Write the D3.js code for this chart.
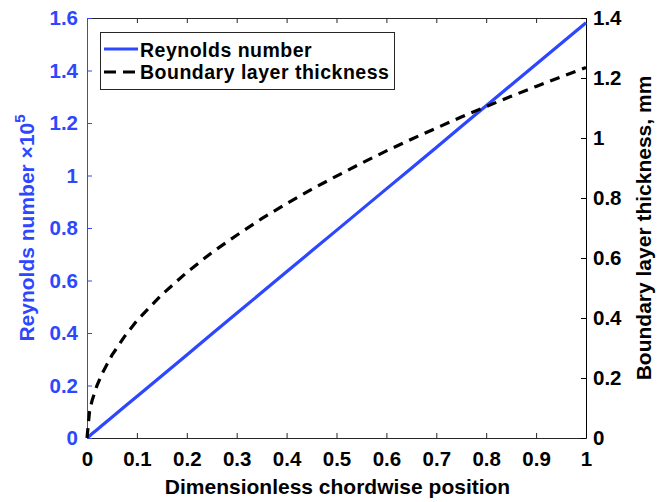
<!DOCTYPE html>
<html>
<head>
<meta charset="utf-8">
<script src="https://cdn.jsdelivr.net/npm/d3@7"></script>
<style>
  html, body { margin: 0; padding: 0; background: #fff; }
  svg { display: block; }
  text { font-family: "Liberation Sans", Arial, Helvetica, sans-serif; font-weight: bold; }
</style>
</head>
<body>
<svg id="chart" width="667" height="502"></svg>
<script>
// Chordwise position (dimensionless)
const xPos = [0, 0.005, 0.01, 0.02, 0.03, 0.05, 0.075, 0.1, 0.15, 0.2, 0.25, 0.3, 0.35, 0.4, 0.45, 0.5, 0.55, 0.6, 0.65, 0.7, 0.75, 0.8, 0.85, 0.9, 0.95, 1.0];
// Reynolds number (x 10^5), grows linearly with position
const reynolds = [0, 0.0079, 0.0158, 0.0316, 0.0475, 0.079, 0.1187, 0.158, 0.237, 0.316, 0.396, 0.475, 0.554, 0.633, 0.712, 0.791, 0.870, 0.949, 1.028, 1.107, 1.187, 1.266, 1.345, 1.424, 1.503, 1.582];
// Boundary layer thickness, mm
const thickness = [0, 0.087, 0.124, 0.175, 0.214, 0.276, 0.338, 0.391, 0.478, 0.552, 0.618, 0.676, 0.731, 0.781, 0.829, 0.873, 0.916, 0.957, 0.996, 1.033, 1.070, 1.105, 1.139, 1.172, 1.204, 1.235];

const xTicks = [0, 0.1, 0.2, 0.3, 0.4, 0.5, 0.6, 0.7, 0.8, 0.9, 1];
const leftTicks = [0, 0.2, 0.4, 0.6, 0.8, 1, 1.2, 1.4, 1.6];
const rightTicks = [0, 0.2, 0.4, 0.6, 0.8, 1, 1.2, 1.4];

const blue = "#2d47ff";
const dark = "#262626";
const box = { left: 87, right: 586, top: 18, bottom: 438 };

const svg = d3.select("#chart");
const x = d3.scaleLinear().domain([0, 1]).range([box.left, box.right]);
const yL = d3.scaleLinear().domain([0, 1.6]).range([box.bottom, box.top]);
const yR = d3.scaleLinear().domain([0, 1.4]).range([box.bottom, box.top]);

const fmt = d => d3.format("~g")(d);

// bottom axis (ticks inward)
const gx = svg.append("g").attr("transform", `translate(0,${box.bottom})`)
  .call(d3.axisBottom(x).tickValues(xTicks).tickFormat(fmt).tickSizeInner(-5).tickSizeOuter(0).tickPadding(13));
gx.select(".domain").attr("stroke", dark);
gx.selectAll(".tick line").attr("stroke", dark);
gx.selectAll("text").attr("fill", "#000").attr("font-size", 20.5);

// top border with mirrored ticks
const gt = svg.append("g").attr("transform", `translate(0,${box.top})`)
  .call(d3.axisTop(x).tickValues(xTicks).tickFormat("").tickSizeInner(-5).tickSizeOuter(0));
gt.select(".domain").attr("stroke", dark);
gt.selectAll(".tick line").attr("stroke", dark);

// left axis
const gl = svg.append("g").attr("transform", `translate(${box.left},0)`)
  .call(d3.axisLeft(yL).tickValues(leftTicks).tickFormat(fmt).tickSizeInner(-5).tickSizeOuter(0).tickPadding(9));
gl.select(".domain").attr("stroke", blue);
gl.selectAll(".tick line").attr("stroke", blue);
gl.selectAll("text").attr("fill", blue).attr("font-size", 20.5);

// right axis
const gr = svg.append("g").attr("transform", `translate(${box.right},0)`)
  .call(d3.axisRight(yR).tickValues(rightTicks).tickFormat(fmt).tickSizeInner(-5).tickSizeOuter(0).tickPadding(7));
gr.select(".domain").attr("stroke", "#000");
gr.selectAll(".tick line").attr("stroke", "#000");
gr.selectAll("text").attr("fill", "#000").attr("font-size", 20.5);

// series
const reLine = d3.line().x((d, i) => x(xPos[i])).y(d => yL(d));
const thLine = d3.line().x((d, i) => x(xPos[i])).y(d => yR(d));

svg.append("path").datum(reynolds)
  .attr("d", reLine).attr("fill", "none").attr("stroke", blue).attr("stroke-width", 3.2);
svg.append("path").datum(thickness)
  .attr("d", thLine).attr("fill", "none").attr("stroke", "#000").attr("stroke-width", 3.2)
  .attr("stroke-dasharray", "10,7");

// axis titles
svg.append("text").attr("x", (box.left + box.right) / 2 + 1).attr("y", 494)
  .attr("text-anchor", "middle").attr("font-size", 21).attr("fill", "#000")
  .text("Dimensionless chordwise position");

const lt = svg.append("text")
  .attr("transform", `translate(34,${(box.top + box.bottom) / 2}) rotate(-90)`)
  .attr("text-anchor", "middle").attr("font-size", 21).attr("fill", blue);
lt.append("tspan").text("Reynolds number \u00d710");
lt.append("tspan").attr("font-size", 15).attr("dy", -9).text("5");

svg.append("text")
  .attr("transform", `translate(651,${(box.top + box.bottom) / 2}) rotate(-90)`)
  .attr("text-anchor", "middle").attr("font-size", 21).attr("fill", "#000")
  .text("Boundary layer thickness, mm");

// legend
const lg = svg.append("g");
lg.append("rect").attr("x", 100.5).attr("y", 32.5).attr("width", 294).attr("height", 57)
  .attr("fill", "#fff").attr("stroke", dark).attr("stroke-width", 1);
const legendItems = [
  { label: "Reynolds number", color: blue, dash: null, y: 49, base: 57 },
  { label: "Boundary layer thickness", color: "#000", dash: "12,7", y: 72, base: 79 }
];
legendItems.forEach(it => {
  lg.append("line").attr("x1", 104).attr("x2", 138).attr("y1", it.y).attr("y2", it.y)
    .attr("stroke", it.color).attr("stroke-width", 3).attr("stroke-dasharray", it.dash);
  lg.append("text").attr("x", 140).attr("y", it.base).attr("font-size", 19.5)
    .attr("letter-spacing", 0.5).attr("fill", "#000")
    .text(it.label);
});
</script>
</body>
</html>
